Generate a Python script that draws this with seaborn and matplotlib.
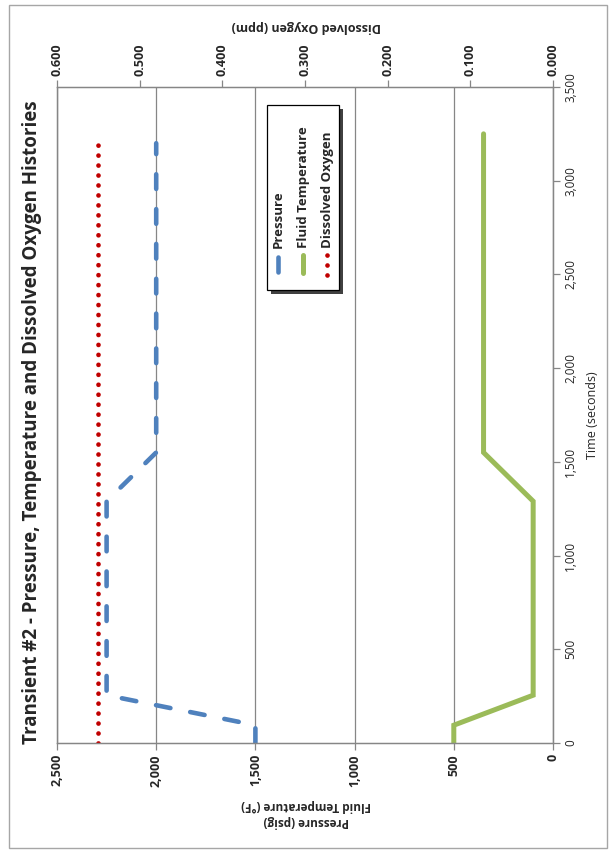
import matplotlib.pyplot as plt
import seaborn as sns
from matplotlib.lines import Line2D
from matplotlib.patches import Rectangle
from matplotlib.ticker import FuncFormatter

BLUE = "#4F81BD"
GREEN = "#9BBB59"
RED = "#C00000"
GREY = "#868686"

# Data (time in seconds).
time_pressure = [0, 95, 255, 1290, 1550, 3200]
pressure = [1500, 1500, 2250, 2250, 2000, 2000]
time_temperature = [0, 95, 255, 1290, 1550, 3250]
temperature = [500, 500, 100, 100, 350, 350]
time_oxygen = [0, 3200]
oxygen = [0.55, 0.55]

pressure_ticks = [0, 500, 1000, 1500, 2000, 2500]
time_ticks = [0, 500, 1000, 1500, 2000, 2500, 3000, 3500]
oxygen_ticks = [0.0, 0.1, 0.2, 0.3, 0.4, 0.5, 0.6]

sns.set_style("white")
plt.rcParams["font.family"] = ["Open Sans", "DejaVu Sans"]

W, H = 616, 855
fig = plt.figure(figsize=(W / 100, H / 100), dpi=100)


def fx(px):
    return px / W


def fy(py):
    return 1 - py / H


# Whole chart is turned a quarter turn: time runs upward, values run right-to-left.
ax = fig.add_axes([fx(57), fy(743), fx(553) - fx(57), fy(87) - fy(743)])
ax2 = ax.twiny()

sns.lineplot(x=pressure, y=time_pressure, ax=ax, orient="y", sort=False,
             color=BLUE, linewidth=3.3, linestyle=(0, (3.2, 4.4)),
             dash_capstyle="round")
sns.lineplot(x=temperature, y=time_temperature, ax=ax, orient="y", sort=False,
             color=GREEN, linewidth=3.6, solid_joinstyle="miter")
sns.lineplot(x=oxygen, y=time_oxygen, ax=ax2, orient="y", sort=False,
             color=RED, linewidth=3.4, linestyle=(0, (0.01, 2.1)),
             dash_capstyle="round")

ax.set_xlim(2500, 0)
ax.set_ylim(0, 3500)
ax2.set_xlim(0.6, 0)
ax.set_xticks(pressure_ticks)
ax.set_yticks(time_ticks)
ax2.set_xticks(oxygen_ticks)
ax.xaxis.set_major_formatter(FuncFormatter(lambda v, _: f"{v:,.0f}"))
ax.yaxis.set_major_formatter(FuncFormatter(lambda v, _: f"{v:,.0f}"))
ax2.xaxis.set_major_formatter(FuncFormatter(lambda v, _: f"{v:.3f}"))
ax.set_xlabel("")
ax.set_ylabel("")
ax2.set_xlabel("")

ax.grid(axis="x", color=GREY, linewidth=0.9)
ax.grid(axis="y", visible=False)
ax.yaxis.tick_right()
for a in (ax, ax2):
    for s in a.spines.values():
        s.set_color(GREY)
        s.set_linewidth(0.9)

ax.tick_params(axis="x", bottom=True, direction="out", length=5, width=0.9,
               color=GREY, pad=3, labelsize=9, labelrotation=90)
ax.tick_params(axis="y", right=True, left=False, direction="out", length=5,
               width=0.9, color=GREY, pad=3, labelsize=8.5, labelrotation=90)
ax2.tick_params(axis="x", top=True, direction="out", length=5, width=0.9,
                color=GREY, pad=3, labelsize=9, labelrotation=90)
for lab in ax.get_xticklabels() + ax2.get_xticklabels():
    lab.set_fontweight("bold")
for lab in ax.get_yticklabels():
    lab.set_verticalalignment("center")

# Titles and axis names.
fig.text(fx(32), fy(422), "Transient #2 - Pressure, Temperature and Dissolved Oxygen Histories",
         rotation=90, ha="center", va="center", fontsize=13.5, fontweight="bold")
fig.text(fx(592), fy(415), "Time (seconds)", rotation=90, ha="center",
         va="center", fontsize=9)
fig.text(fx(306), fy(27), "Dissolved Oxygen (ppm)", rotation=180, ha="center",
         va="center", fontsize=9, fontweight="bold")
fig.text(fx(306), fy(813), "Pressure (psig)\nFluid Temperature (\u00b0F)", rotation=180,
         ha="center", va="center", fontsize=8.5, fontweight="bold", linespacing=1.3)

# Legend box, drawn by hand because its text runs upward.
fig.patches.append(Rectangle((fx(271), fy(294)), fx(339) - fx(267), fy(105) - fy(290),
                             transform=fig.transFigure, facecolor="#404040",
                             edgecolor="none", zorder=5))
fig.patches.append(Rectangle((fx(267), fy(290)), fx(339) - fx(267), fy(105) - fy(290),
                             transform=fig.transFigure, facecolor="white",
                             edgecolor="black", linewidth=0.9, zorder=6))
fig.lines.append(Line2D([fx(278), fx(278)], [fy(272), fy(257)], transform=fig.transFigure,
                        color=BLUE, linewidth=3.3, solid_capstyle="round", zorder=7))
fig.lines.append(Line2D([fx(303), fx(303)], [fy(273), fy(255)], transform=fig.transFigure,
                        color=GREEN, linewidth=3.6, solid_capstyle="round", zorder=7))
fig.lines.append(Line2D([fx(327), fx(327)], [fy(275), fy(255)], transform=fig.transFigure,
                        color=RED, linewidth=3.4, linestyle=(0, (0.01, 2.1)),
                        dash_capstyle="round", zorder=7))
for x, name in [(278, "Pressure"), (303, "Fluid Temperature"), (327, "Dissolved Oxygen")]:
    fig.text(fx(x), fy(248), name, rotation=90, ha="center", va="bottom",
             fontsize=9.5, fontweight="bold", zorder=8)

# Outer chart border.
fig.patches.append(Rectangle((fx(9), fy(848)), fx(607) - fx(9), fy(5) - fy(848),
                             transform=fig.transFigure, facecolor="none",
                             edgecolor="#A6A6A6", linewidth=1.0, zorder=1))

fig.savefig("out.png", dpi=100)
